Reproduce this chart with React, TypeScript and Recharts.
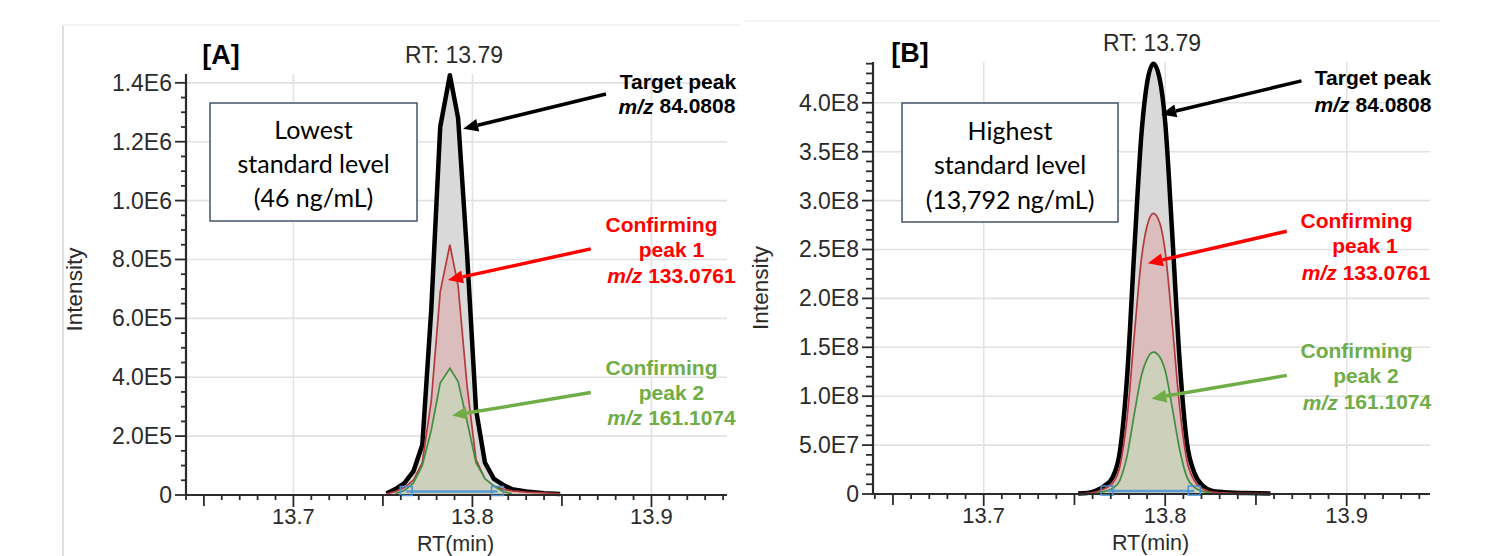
import React from 'react'
import {
  ComposedChart, Area, XAxis, YAxis, CartesianGrid, ReferenceLine, ReferenceDot,
} from 'recharts'

const FONT = '"Liberation Sans", Arial, Helvetica, sans-serif'
const BOX_FONT = 'Lato, "Open Sans", sans-serif'

// ---- panel A: lowest standard level (46 ng/mL) ----
const rtA = [13.752, 13.757, 13.762, 13.767, 13.772, 13.777, 13.782, 13.7874, 13.792, 13.797, 13.802, 13.807, 13.812, 13.817, 13.822, 13.83, 13.84, 13.849]
const targetA = [5e3, 2e4, 4e4, 8e4, 1.7e5, 6.3e5, 1.25e6, 1.426e6, 1.28e6, 8.2e5, 2.9e5, 1.1e5, 5.5e4, 3.5e4, 2e4, 1.2e4, 6e3, 3e3]
const conf1A = [4e3, 1.2e4, 2.5e4, 5e4, 1.1e5, 3.2e5, 6.9e5, 8.5e5, 7.1e5, 3.7e5, 1.2e5, 5.5e4, 3e4, 2e4, 1.4e4, 1e4, 7e3, 4e3]
const conf2A = [null, 5e3, 1.5e4, 4e4, 1.0e5, 2.2e5, 3.8e5, 4.3e5, 3.85e5, 2.5e5, 1.1e5, 5.5e4, 3e4, 1.2e4, 4e3, null, null, null]
const baseA = [13.763, 13.814]

// ---- panel B: highest standard level (13,792 ng/mL) ----
const rtB = [13.752, 13.757, 13.762, 13.767, 13.771, 13.775, 13.779, 13.783, 13.787, 13.79, 13.7935, 13.797, 13.8, 13.804, 13.808, 13.812, 13.816, 13.821, 13.826, 13.835, 13.845, 13.858]
const targetB = [5e5, 1e6, 3.5e6, 9e6, 1.7e7, 4.3e7, 1.2e8, 2.5e8, 3.7e8, 4.2e8, 4.4e8, 4.24e8, 3.8e8, 2.62e8, 1.35e8, 5.2e7, 2.2e7, 8e6, 3e6, 1.5e6, 1e6, 5e5]
const conf1B = [3e5, 6e5, 2.2e6, 5.8e6, 1.1e7, 2.8e7, 7.8e7, 1.63e8, 2.42e8, 2.74e8, 2.87e8, 2.77e8, 2.48e8, 1.71e8, 8.8e7, 3.4e7, 1.4e7, 5e6, 2e6, 1e6, 6e5, 3e5]
const conf2B = [null, null, 1e6, 3e6, 5.6e6, 1.4e7, 3.9e7, 8.2e7, 1.22e8, 1.38e8, 1.45e8, 1.4e8, 1.26e8, 8.7e7, 4.5e7, 1.7e7, 7e6, 2.5e6, 1e6, null, null, null]
const baseB = [13.768, 13.816]

// axes
const xMajor = [13.7, 13.8, 13.9]
const xTicks = Array.from({ length: 31 }, (_, i) => (1364 + i) / 100)
const yMajorA = [0, 2e5, 4e5, 6e5, 8e5, 1e6, 1.2e6, 1.4e6]
const yTicksA = Array.from({ length: 29 }, (_, i) => i * 5e4)
const yMajorB = [0, 5e7, 1e8, 1.5e8, 2e8, 2.5e8, 3e8, 3.5e8, 4e8]
const yTicksB = Array.from({ length: 45 }, (_, i) => i * 1e7)

// arrows [x tail, y tail, x head, y head]
const arrowsA = [
  { pts: [13.8746, 1.362e6, 13.7948, 1.244e6], color: '#000000' },
  { pts: [13.8661, 8.36e5, 13.7863, 7.3e5], color: '#ff0000' },
  { pts: [13.8661, 3.48e5, 13.7886, 2.7e5], color: '#70ad47' },
]
const arrowsB = [
  { pts: [13.8751, 4.224e8, 13.7978, 3.881e8], color: '#000000' },
  { pts: [13.867, 2.687e8, 13.7904, 2.359e8], color: '#ff0000' },
  { pts: [13.867, 1.213e8, 13.7924, 9.75e7], color: '#70ad47' },
]

const fmtY = (v: number) => (v === 0 ? '0' : v.toExponential(1).replace('e+', 'E'))

const YTick = ({ x, y, payload, majors, minorLen }: any) => {
  const major = majors.includes(payload.value)
  return (
    <g>
      <line x1={x - (major ? 11 : minorLen)} y1={y} x2={x} y2={y} stroke="#2b2b2b" strokeWidth={1.8} />
      {major && (
        <text x={x - 14} y={y} textAnchor="end" dominantBaseline="central"
          fontSize={23} fill="#2b2b2b" fontFamily={FONT}>{fmtY(payload.value)}</text>
      )}
    </g>
  )
}

const XTick = ({ x, y, payload }: any) => {
  const v = payload.value
  const major = Math.abs(v * 10 - Math.round(v * 10)) < 1e-6
  const mid = Math.abs(v * 20 - Math.round(v * 20)) < 1e-6
  const len = major ? 12 : mid ? 11 : 5
  return (
    <g>
      <line x1={x} x2={x} y1={y} y2={y + len} stroke="#2b2b2b" strokeWidth={1.8} />
      {major && (
        <text x={x} y={y + 21} textAnchor="middle" dominantBaseline="central"
          fontSize={22} fill="#2b2b2b" fontFamily={FONT}>{v.toFixed(1)}</text>
      )}
    </g>
  )
}

const Arrow = ({ x1, y1, x2, y2, color }: any) => {
  const dx = x2 - x1
  const dy = y2 - y1
  const len = Math.sqrt(dx * dx + dy * dy)
  const ux = dx / len
  const uy = dy / len
  const head = 15
  const half = 6.5
  const bx = x2 - ux * head
  const by = y2 - uy * head
  return (
    <g>
      <line x1={x1} y1={y1} x2={bx} y2={by} stroke={color} strokeWidth={3.5} />
      <polygon
        points={`${x2},${y2} ${bx - uy * half},${by + ux * half} ${bx + uy * half},${by - ux * half}`}
        fill={color}
      />
    </g>
  )
}

const Bracket = ({ cx, cy }: any) => (
  <rect x={cx - 6} y={cy - 5} width={12} height={9} fill="none" stroke="#4a90d0" strokeWidth={1.5} />
)

interface PanelProps {
  rt: number[]
  target: number[]
  conf1: (number | null)[]
  conf2: (number | null)[]
  base: number[]
  baseY: number
  arrows: { pts: number[]; color: string }[]
  curve: 'linear' | 'monotone'
  width: number
  top: number
  right: number
  yAxisWidth: number
  xAxisHeight: number
  xDomain: [number, number]
  yDomain: [number, number]
  yTicks: number[]
  yMajor: number[]
  minorLen: number
  labelGap: number
  labelDy: number
}

function Panel(p: PanelProps) {
  const rows = p.rt.map((x, i) => ({ rt: x, target: p.target[i], conf1: p.conf1[i], conf2: p.conf2[i] }))
  return (
    <ComposedChart width={p.width} height={556} data={rows}
      margin={{ top: p.top, right: p.right, bottom: 0, left: 0 }}>
      <CartesianGrid horizontalValues={p.yMajor} verticalValues={xMajor} stroke="#e2e2e2" strokeWidth={1.6} />
      <XAxis
        dataKey="rt" type="number" domain={p.xDomain} ticks={xTicks} interval={0}
        height={p.xAxisHeight} tickSize={0} tickMargin={0} tickLine={false}
        axisLine={{ stroke: '#2b2b2b', strokeWidth: 2.2 }}
        tick={(t: any) => <XTick {...t} />}
        label={{
          content: ({ viewBox }: any) => (
            <text x={viewBox.x + viewBox.width / 2 - 1} y={viewBox.y + 48.5} textAnchor="middle"
              dominantBaseline="central" fontSize={21.5} fill="#2b2b2b" fontFamily={FONT}>RT(min)</text>
          ),
        }}
      />
      <YAxis
        type="number" domain={p.yDomain} ticks={p.yTicks} interval={0}
        width={p.yAxisWidth} tickSize={0} tickMargin={0} tickLine={false}
        axisLine={{ stroke: '#2b2b2b', strokeWidth: 2.2 }}
        tick={(t: any) => <YTick {...t} majors={p.yMajor} minorLen={p.minorLen} />}
        label={{
          content: ({ viewBox }: any) => {
            const lx = viewBox.x + viewBox.width - p.labelGap
            const ly = viewBox.y + viewBox.height / 2 + p.labelDy
            return (
              <text x={lx} y={ly} transform={`rotate(-90 ${lx} ${ly})`} textAnchor="middle"
                dominantBaseline="central" fontSize={22.5} fill="#2b2b2b" fontFamily={FONT}>Intensity</text>
            )
          },
        }}
      />
      <Area type={p.curve} dataKey="target" stroke="#000" strokeWidth={4.5} strokeLinejoin="round"
        fill="#d9d9d9" fillOpacity={1} dot={false} activeDot={false} isAnimationActive={false} />
      <Area type={p.curve} dataKey="conf1" stroke="#b33b3b" strokeWidth={1.7}
        fill="#dcbdbd" fillOpacity={1} dot={false} activeDot={false} isAnimationActive={false} />
      <Area type={p.curve} dataKey="conf2" stroke="#3f8f3f" strokeWidth={1.7}
        fill="#cdd1bb" fillOpacity={1} dot={false} activeDot={false} isAnimationActive={false} />
      <ReferenceLine segment={[{ x: p.base[0], y: p.baseY }, { x: p.base[1], y: p.baseY }]}
        stroke="#5b9bd5" strokeWidth={2.5} />
      <ReferenceDot x={p.base[0]} y={p.baseY} shape={Bracket} />
      <ReferenceDot x={p.base[1]} y={p.baseY} shape={Bracket} />
      {p.arrows.map((a, i) => (
        <ReferenceLine key={i}
          segment={[{ x: a.pts[0], y: a.pts[1] }, { x: a.pts[2], y: a.pts[3] }]}
          stroke={a.color}
          shape={(s: any) => <Arrow {...s} color={a.color} />}
        />
      ))}
    </ComposedChart>
  )
}

const T = ({ x, y, size = 21, bold = false, color = '#000', family = FONT, children }: any) => (
  <text x={x} y={y} textAnchor="middle" dominantBaseline="central" fontSize={size}
    fontWeight={bold ? 'bold' : 'normal'} fill={color} fontFamily={family}>{children}</text>
)

const MZ = ({ value }: { value: string }) => (
  <>
    <tspan fontStyle="italic">m/z</tspan> {value}
  </>
)

export default function App() {
  return (
    <div style={{ position: 'absolute', left: 0, top: 0, width: 1491, height: 556, background: '#fff' }}>
      <div style={{ position: 'absolute', left: 0, top: 0 }}>
        <Panel rt={rtA} target={targetA} conf1={conf1A} conf2={conf2A} base={baseA} baseY={1.2e4}
          arrows={arrowsA} curve="linear" width={745} top={74} right={18} yAxisWidth={186} xAxisHeight={61}
          xDomain={[13.64, 13.9422]} yDomain={[0, 1.43e6]} yTicks={yTicksA} yMajor={yMajorA}
          minorLen={5} labelGap={112} labelDy={5} />
      </div>
      <div style={{ position: 'absolute', left: 745, top: 0 }}>
        <Panel rt={rtB} target={targetB} conf1={conf1B} conf2={conf2B} base={baseB} baseY={3e6}
          arrows={arrowsB} curve="monotone" width={746} top={62} right={61} yAxisWidth={128} xAxisHeight={62}
          xDomain={[13.639, 13.9459]} yDomain={[0, 4.417e8]} yTicks={yTicksB} yMajor={yMajorB}
          minorLen={7} labelGap={113} labelDy={10} />
      </div>
      <svg width={1491} height={556} style={{ position: 'absolute', left: 0, top: 0, pointerEvents: 'none' }}>
        {/* panel frames */}
        <line x1={63} y1={25} x2={63} y2={556} stroke="#d4d4d4" strokeWidth={1.5} />
        <line x1={63} y1={25} x2={740} y2={25} stroke="#efefef" strokeWidth={1.5} />
        <line x1={745} y1={21} x2={1440} y2={21} stroke="#f2f2f2" strokeWidth={1.5} />

        {/* panel A annotations */}
        <T x={221} y={55} size={27} bold>[A]</T>
        <T x={454} y={55} size={23} color="#2b2b2b">RT: 13.79</T>
        <rect x={210} y={103} width={207} height={118} fill="#fff" stroke="#44546a" strokeWidth={1.5} />
        <T x={313.5} y={129} size={25} family={BOX_FONT}>Lowest</T>
        <T x={313.5} y={163} size={25} family={BOX_FONT}>standard level</T>
        <T x={313.5} y={197} size={25} family={BOX_FONT}>(46 ng/mL)</T>
        <T x={678} y={81} bold>Target peak</T>
        <T x={677} y={105.5} bold><MZ value="84.0808" /></T>
        <T x={661.5} y={224} bold color="#ff0000">Confirming</T>
        <T x={671.5} y={249} bold color="#ff0000">peak 1</T>
        <T x={671.5} y={275} bold color="#ff0000"><MZ value="133.0761" /></T>
        <T x={661.5} y={367} bold color="#70ad47">Confirming</T>
        <T x={671.5} y={392} bold color="#70ad47">peak 2</T>
        <T x={671.5} y={417} bold color="#70ad47"><MZ value="161.1074" /></T>

        {/* panel B annotations */}
        <T x={910} y={53} size={27} bold>[B]</T>
        <T x={1152} y={43} size={23} color="#2b2b2b">RT: 13.79</T>
        <rect x={902} y={103} width={216} height={119} fill="#fff" stroke="#44546a" strokeWidth={1.5} />
        <T x={1010} y={130} size={25} family={BOX_FONT}>Highest</T>
        <T x={1010} y={164} size={25} family={BOX_FONT}>standard level</T>
        <T x={1010} y={199} size={25} family={BOX_FONT}>(13,792 ng/mL)</T>
        <T x={1373} y={77} bold>Target peak</T>
        <T x={1373} y={104} bold><MZ value="84.0808" /></T>
        <T x={1356.5} y={220.5} bold color="#ff0000">Confirming</T>
        <T x={1365} y={245.5} bold color="#ff0000">peak 1</T>
        <T x={1366} y={272} bold color="#ff0000"><MZ value="133.0761" /></T>
        <T x={1356.5} y={350.5} bold color="#70ad47">Confirming</T>
        <T x={1366} y={375.5} bold color="#70ad47">peak 2</T>
        <T x={1367} y={401.5} bold color="#70ad47"><MZ value="161.1074" /></T>
      </svg>
    </div>
  )
}
